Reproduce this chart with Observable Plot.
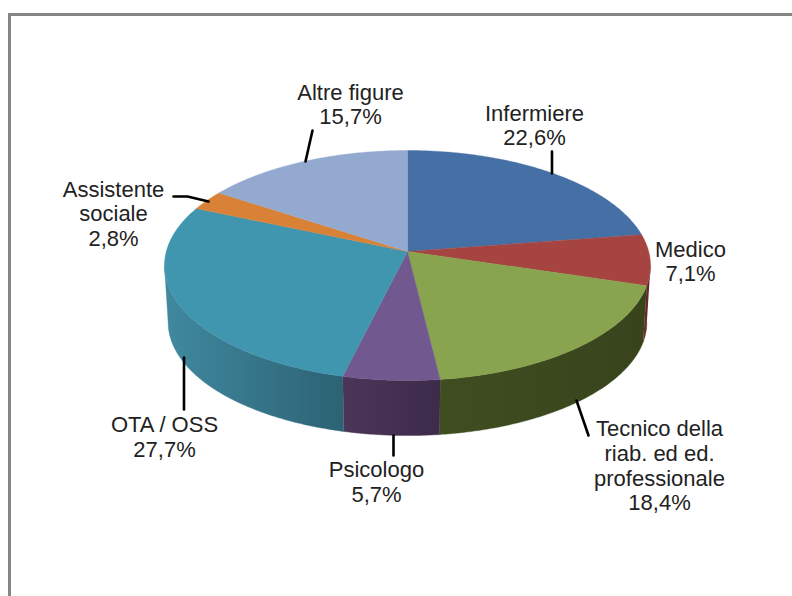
<!DOCTYPE html>
<html>
<head>
<meta charset="utf-8">
<script src="https://cdn.jsdelivr.net/npm/d3@7"></script>
<script src="https://cdn.jsdelivr.net/npm/@observablehq/plot@0.6"></script>
<style>html,body{margin:0;padding:0;background:#fff;overflow:hidden}</style>
</head>
<body>
<div id="chart"></div>
<script>
const categories = ["Infermiere", "Medico", "Tecnico della\nriab. ed ed.\nprofessionale", "Psicologo", "OTA / OSS", "Assistente\nsociale", "Altre figure"];
const values = [22.6, 7.1, 18.4, 5.7, 27.7, 2.8, 15.7];
const valueLabels = ["22,6%", "7,1%", "18,4%", "5,7%", "27,7%", "2,8%", "15,7%"];
const topColors = ["#4570a6", "#a64441", "#88a44e", "#71588f", "#4096ae", "#d98237", "#93a9cf"];
const sideLeft = ["#4570a6", "#6e2d2b", "#3f4e20", "#4b3659", "#40899f", "#d98237", "#93a9cf"];
const sideRight = ["#4570a6", "#5e2523", "#38431c", "#3d2b4a", "#2c6274", "#d98237", "#93a9cf"];

// Layout of the labels and leader lines, in page pixels
const labelAt = [[534, 124.5], [690, 260.5], [659, 465], [376, 481], [164, 436], [113, 213], [350, 103.5]];
const leaders = [
  [[551.5, 173], [551.5, 151]],
  [],
  [[576, 400], [588, 435]],
  [[393, 435], [393, 455]],
  [[183.5, 357], [183.5, 409]],
  [[208, 201], [187, 196], [173, 196]],
  [[305, 161], [312, 130]]
];

// Perspective of the tilted disc
const cx = 407, cy = 251, A = 241.2, B = 113.3, k = 0.1217, depth = 57, shrink = 0.985;
const top3d = t => {
  const u = Math.sin(t), v = Math.cos(t), w = 1 + k * v;
  return [cx + A * u / w, cy - B * v / w];
};
const bottom3d = t => {
  const u = Math.sin(t), v = Math.cos(t), w = 1 + k * v;
  return [cx + shrink * A * u / w, cy + depth - shrink * B * v / w];
};
const total = d3.sum(values);
let run = 0;
const slices = values.map((v, i) => {
  const a0 = run / total * 2 * Math.PI;
  run += v;
  return {i, a0, a1: run / total * 2 * Math.PI};
});

// Top faces
const faceRows = slices.flatMap(s => {
  const n = Math.ceil((s.a1 - s.a0) / 0.01);
  const pts = [[cx, cy], ...d3.range(n + 1).map(j => top3d(s.a0 + (s.a1 - s.a0) * j / n)), [cx, cy]];
  return pts.map(p => ({x: p[0], y: p[1], z: s.i, c: topColors[s.i]}));
});

// Side wall of each slice, between the silhouette points, filled with a horizontal gradient
const silR = Math.PI - Math.acos(k), silL = Math.PI + Math.acos(k);
const sideRows = slices.flatMap(s => {
  const from = Math.max(s.a0, silR), to = Math.min(s.a1, silL);
  if (to <= from) return [];
  const n = Math.ceil((to - from) / 0.01);
  const as = d3.range(n + 1).map(j => from + (to - from) * j / n);
  const pts = [...as.map(top3d), ...as.slice().reverse().map(bottom3d)];
  return pts.map(p => ({x: p[0], y: p[1], z: s.i, c: `url(#side${s.i})`}));
});
const sideGradients = () => {
  const ns = "http://www.w3.org/2000/svg";
  const defs = document.createElementNS(ns, "defs");
  d3.groups(sideRows, d => d.z).forEach(([i, rows]) => {
    const [x0, x1] = d3.extent(rows, d => d.x);
    const g = document.createElementNS(ns, "linearGradient");
    g.setAttribute("id", `side${i}`);
    g.setAttribute("gradientUnits", "userSpaceOnUse");
    g.setAttribute("x1", x0); g.setAttribute("x2", x1);
    g.setAttribute("y1", 0); g.setAttribute("y2", 0);
    [[0, sideLeft[i]], [1, sideRight[i]]].forEach(([o, c]) => {
      const st = document.createElementNS(ns, "stop");
      st.setAttribute("offset", o); st.setAttribute("stop-color", c);
      g.appendChild(st);
    });
    defs.appendChild(g);
  });
  return defs;
};

const leaderRows = leaders.flatMap((l, i) => l.map(p => ({x: p[0], y: p[1], z: i})));
const labelRows = categories.map((c, i) => ({x: labelAt[i][0], y: labelAt[i][1], t: c + "\n" + valueLabels[i]}));

const chart = Plot.plot({
  width: 792, height: 596, margin: 0,
  style: {background: "#fff", fontFamily: "'Liberation Sans', Arial, sans-serif"},
  x: {domain: [0, 792], range: [0, 792], axis: null},
  y: {domain: [0, 596], range: [0, 596], axis: null},
  color: {type: "identity"},
  marks: [
    sideGradients,
    Plot.ruleY([14], {x1: 8, x2: 792, stroke: "#868686", strokeWidth: 3}),
    Plot.ruleX([9], {y1: 13, y2: 596, stroke: "#868686", strokeWidth: 3}),
    Plot.line(sideRows, {x: "x", y: "y", z: "z", fill: "c", stroke: "c", strokeWidth: 0.4, curve: "linear"}),
    Plot.line(faceRows, {x: "x", y: "y", z: "z", fill: "c", stroke: "c", strokeWidth: 0.4, curve: "linear"}),
    Plot.line(leaderRows, {x: "x", y: "y", z: "z", stroke: "#000", strokeWidth: 2.6, curve: "linear"}),
    Plot.text(labelRows, {x: "x", y: "y", text: "t", fontSize: 22, lineHeight: 1.12, fill: "#222", textAnchor: "middle", lineAnchor: "middle"})
  ]
});
document.getElementById("chart").appendChild(chart);
</script>
</body>
</html>
